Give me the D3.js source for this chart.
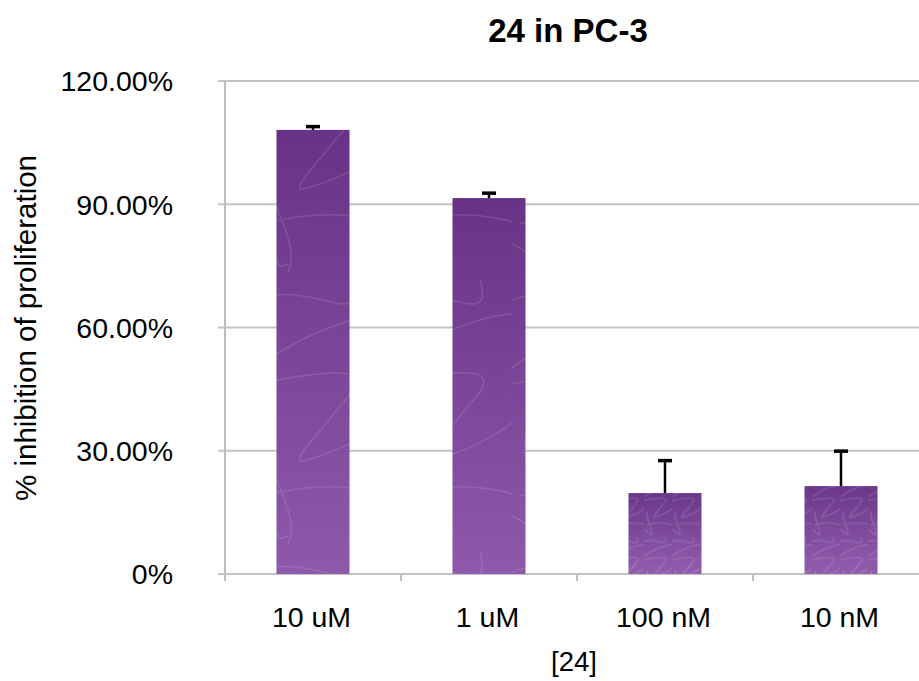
<!DOCTYPE html>
<html>
<head>
<meta charset="utf-8">
<script src="https://cdn.jsdelivr.net/npm/d3@7/dist/d3.min.js"></script>
<style>
  html, body { margin: 0; padding: 0; background: #fff; }
  svg { display: block; }
  text { font-family: "Liberation Sans", Arial, Helvetica, sans-serif; fill: #000; }
</style>
</head>
<body>
<svg id="chart" width="919" height="681"></svg>
<script>
// ---- data ----
const categories = ["10 uM", "1 uM", "100 nM", "10 nM"];
const values = [108.1, 91.5, 19.7, 21.4];      // % inhibition
const errors = [0.8, 1.2, 7.9, 8.5];           // upper error
const yTickValues = [0, 30, 60, 90, 120];
const yTickLabels = ["0%", "30.00%", "60.00%", "90.00%", "120.00%"];
const titleText = "24 in PC-3";
const xTitleText = "[24]";
const yTitleText = "% inhibition of proliferation";

// ---- layout ----
const W = 919, H = 681;
const plotLeft = 225, plotRight = 929, plotTop = 81, plotBottom = 574;

const svg = d3.select("#chart");

const x = d3.scaleBand().domain(categories).range([plotLeft, plotRight]).padding(0);
const y = d3.scaleLinear().domain([0, 120]).range([plotBottom, plotTop]);
const barW = x.bandwidth() * 0.415;

// ---- defs: gradient + texture ----
const defs = svg.append("defs");
const grad = defs.append("linearGradient").attr("id", "barGrad")
  .attr("x1", 0).attr("y1", 0).attr("x2", 0).attr("y2", 1);
grad.append("stop").attr("offset", "0%").attr("stop-color", "#683387");
grad.append("stop").attr("offset", "100%").attr("stop-color", "#8e58ab");

const grad2 = defs.append("linearGradient").attr("id", "barGrad2")
  .attr("x1", 0).attr("y1", 0).attr("x2", 0).attr("y2", 1);
grad2.append("stop").attr("offset", "0%").attr("stop-color", "#6a3789");
grad2.append("stop").attr("offset", "100%").attr("stop-color", "#925daf");

function swirlPattern(id, scale, opacity) {
  const p = defs.append("pattern").attr("id", id)
    .attr("patternUnits", "userSpaceOnUse")
    .attr("width", 80).attr("height", 170)
    .attr("patternTransform", `scale(${scale})`);
  p.append("path")
    .attr("d", "M-5,20 C30,0 70,40 60,5 M0,60 C40,30 90,20 90,30 M0,70 C50,60 70,60 60,75 C40,100 20,120 30,118 C60,110 80,95 85,90 M5,140 C40,130 70,135 85,140 M-5,150 C20,160 10,170 20,165 M10,100 C0,120 30,150 20,170")
    .attr("fill", "none")
    .attr("stroke", "#ffffff")
    .attr("stroke-opacity", opacity)
    .attr("stroke-width", 1.6 / scale);
  return p;
}
swirlPattern("swirlBig", 1.6, 0.11);
swirlPattern("swirlSmall", 0.35, 0.12);

// ---- gridlines ----
svg.append("g").selectAll("line").data(yTickValues).join("line")
  .attr("x1", plotLeft - 7).attr("x2", W)
  .attr("y1", d => y(d)).attr("y2", d => y(d))
  .attr("stroke", "#c3c3c3").attr("stroke-width", 2);

// y axis line
svg.append("line")
  .attr("x1", plotLeft).attr("x2", plotLeft)
  .attr("y1", plotTop).attr("y2", plotBottom + 7)
  .attr("stroke", "#bdbdbd").attr("stroke-width", 2);

// x ticks at band boundaries
const bounds = categories.map(c => x(c));
svg.append("g").selectAll("line").data(bounds).join("line")
  .attr("x1", d => d).attr("x2", d => d)
  .attr("y1", plotBottom).attr("y2", plotBottom + 7)
  .attr("stroke", "#bdbdbd").attr("stroke-width", 2);

// y tick labels
svg.append("g").selectAll("text").data(yTickValues).join("text")
  .attr("x", 173).attr("y", d => y(d)).attr("dy", "0.36em")
  .attr("text-anchor", "end")
  .style("font-size", "28.5px")
  .text((d, i) => yTickLabels[i]);

// ---- bars ----
const barData = categories.map((c, i) => ({ c, v: values[i], e: errors[i], i }));
const bars = svg.append("g");
bars.selectAll("rect.fill").data(barData).join("rect")
  .attr("class", "fill")
  .attr("x", d => x(d.c) + x.bandwidth() / 2 - barW / 2)
  .attr("y", d => y(d.v))
  .attr("width", barW)
  .attr("height", d => y(0) - y(d.v))
  .attr("fill", d => d.i < 2 ? "url(#barGrad)" : "url(#barGrad2)");
bars.selectAll("rect.tex").data(barData).join("rect")
  .attr("class", "tex")
  .attr("x", d => x(d.c) + x.bandwidth() / 2 - barW / 2)
  .attr("y", d => y(d.v))
  .attr("width", barW)
  .attr("height", d => y(0) - y(d.v))
  .attr("fill", d => d.i < 2 ? "url(#swirlBig)" : "url(#swirlSmall)");

// ---- error bars ----
const eb = svg.append("g");
eb.selectAll("line").data(barData).join("line")
  .attr("x1", d => x(d.c) + x.bandwidth() / 2)
  .attr("x2", d => x(d.c) + x.bandwidth() / 2)
  .attr("y1", d => y(d.v))
  .attr("y2", d => y(d.v + d.e))
  .attr("stroke", "#000").attr("stroke-width", 2.5);
eb.selectAll("rect").data(barData).join("rect")
  .attr("x", d => x(d.c) + x.bandwidth() / 2 - 7)
  .attr("y", d => y(d.v + d.e) - 1.75)
  .attr("width", 14).attr("height", 3.5)
  .attr("fill", "#000");

// ---- category labels ----
svg.append("g").selectAll("text").data(categories).join("text")
  .attr("x", d => x(d) + x.bandwidth() / 2 - 1.5)
  .attr("y", 627)
  .attr("text-anchor", "middle")
  .style("font-size", "28.5px")
  .text(d => d);

// axis titles
svg.append("text")
  .attr("x", 574).attr("y", 671)
  .attr("text-anchor", "middle")
  .style("font-size", "27.5px")
  .text(xTitleText);

svg.append("text")
  .attr("transform", "translate(36,328) rotate(-90)")
  .attr("text-anchor", "middle")
  .style("font-size", "29.5px")
  .text(yTitleText);

// chart title
svg.append("text")
  .attr("x", 568).attr("y", 42)
  .attr("text-anchor", "middle")
  .style("font-size", "33px")
  .style("font-weight", "bold")
  .text(titleText);
</script>
</body>
</html>
